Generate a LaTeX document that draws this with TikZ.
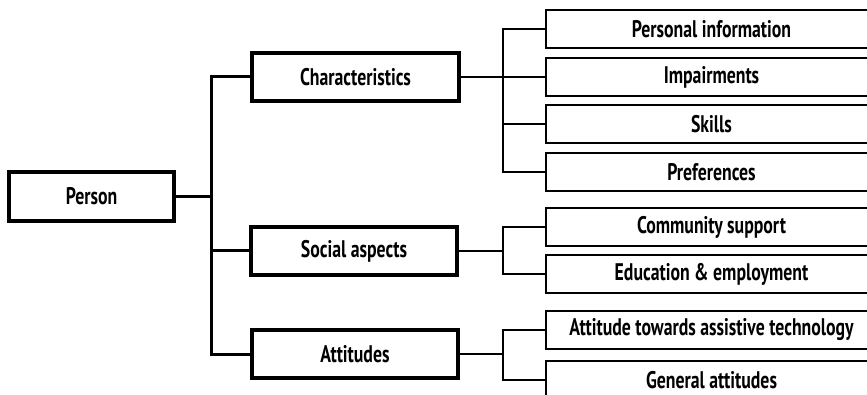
\documentclass[tikz,border=0pt]{standalone}
\usepackage{fontspec}
\setmainfont{PT Sans}[FakeStretch=0.74]
\begin{document}
\begin{tikzpicture}[x=1pt,y=-1pt,
  mainbox/.style={draw, line width=3.2pt, inner sep=0pt, font=\fontsize{24}{28}\selectfont\bfseries},
  leafbox/.style={draw, line width=2.2pt, inner sep=0pt, minimum width=331pt, minimum height=38pt, font=\fontsize{24}{28}\selectfont\bfseries},
  trunk/.style={line width=3pt},
  twig/.style={line width=1.8pt}]
\useasboundingbox (0,0) rectangle (867,395);
\clip (0,0) rectangle (867,395);
\fill[white] (0,0) rectangle (867,395);

% first level
\node[mainbox, minimum width=165pt, minimum height=49pt] (person) at (91.5,196.5) {Person};
\node[mainbox, minimum width=207pt, minimum height=48pt] (char) at (355.5,77) {Characteristics};
\node[mainbox, minimum width=206pt, minimum height=48pt] (soc) at (354,251) {Social aspects};
\node[mainbox, minimum width=206pt, minimum height=48pt] (att) at (355,354) {Attitudes};

% leaves
\node[leafbox] (pi) at (711.5,29) {Personal information};
\node[leafbox] (imp) at (711.5,77) {Impairments};
\node[leafbox] (sk) at (711.5,124) {Skills};
\node[leafbox] (pref) at (711.5,172) {Preferences};
\node[leafbox] (cs) at (711.5,227) {Community support};
\node[leafbox] (ee) at (711.5,274) {Education \& employment};
\node[leafbox] (at) at (711.5,330) {Attitude towards assistive technology};
\node[leafbox] (ga) at (711.5,380) {General attitudes};

% bracket positions
\coordinate (tr) at (211,0);
\coordinate (br) at (503,0);

% trunk
\draw[trunk] (person.east) -- (person.east -| tr);
\draw[trunk] (char.west) -- (char.west -| tr) -- (att.west -| tr) -- (att.west);
\draw[trunk] (soc.west) -- (soc.west -| tr);

% characteristics
\draw[twig] (char.east) -- (char.east -| br);
\draw[twig] (pi.west) -- (pi.west -| br) -- (pref.west -| br) -- (pref.west);
\draw[twig] (imp.west) -- (imp.west -| br);
\draw[twig] (sk.west) -- (sk.west -| br);

% social aspects
\draw[twig] (soc.east) -- (soc.east -| br);
\draw[twig] (cs.west) -- (cs.west -| br) -- (ee.west -| br) -- (ee.west);

% attitudes
\draw[twig] (att.east) -- (att.east -| br);
\draw[twig] (at.west) -- (at.west -| br) -- (ga.west -| br) -- (ga.west);
\end{tikzpicture}
\end{document}
